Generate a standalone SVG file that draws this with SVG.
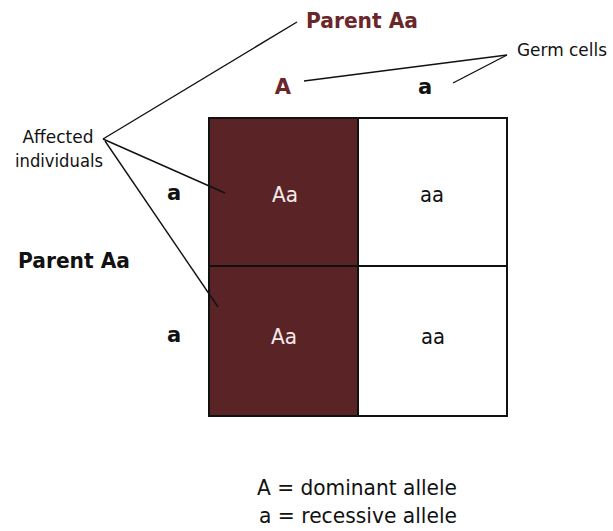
<svg xmlns="http://www.w3.org/2000/svg" width="613" height="531" viewBox="0 0 613 531">
<style>
text{font-family:"DejaVu Sans","Liberation Sans",sans-serif;}
.lbl{font-size:18px;fill:#111;}
.bold{font-size:21px;font-weight:bold;}
.red{fill:#6b2629;}
.blk{fill:#111;}
.cell{font-size:22px;text-anchor:middle;}
.leg{font-size:21px;fill:#111;text-anchor:middle;}
.ln{stroke:#111;stroke-width:1.4;fill:none;}
.dark{fill:#5a2427;}
.light{fill:#fff;}
.grid{stroke:#111;stroke-width:2;fill:none;}
</style>
<rect width="613" height="531" fill="#fff"/>
<g id="parent-top"><text class="bold red" x="306" y="28" textLength="112" lengthAdjust="spacingAndGlyphs">Parent Aa</text></g>
<g id="germ-cells"><text class="lbl" x="517" y="56" textLength="90" lengthAdjust="spacingAndGlyphs">Germ cells</text></g>
<g id="gamete-A"><text class="bold red" x="283" y="94" text-anchor="middle">A</text></g>
<g id="gamete-a-top"><text class="bold blk" x="425" y="94" text-anchor="middle">a</text></g>
<g id="affected"><text class="lbl" x="58" y="143" text-anchor="middle" textLength="71" lengthAdjust="spacingAndGlyphs">Affected</text><text class="lbl" x="59" y="167" text-anchor="middle" textLength="88" lengthAdjust="spacingAndGlyphs">individuals</text></g>
<g id="gamete-a-1"><text class="bold blk" x="174" y="200" text-anchor="middle">a</text></g>
<g id="parent-left"><text class="bold blk" x="18" y="268" textLength="112" lengthAdjust="spacingAndGlyphs">Parent Aa</text></g>
<g id="gamete-a-2"><text class="bold blk" x="174" y="342" text-anchor="middle">a</text></g>
<g id="cell-tl"><rect class="dark" x="209" y="118" width="149" height="148"/><text class="cell" x="285" y="202" fill="#f5e9e9" textLength="26" lengthAdjust="spacingAndGlyphs">Aa</text></g>
<g id="cell-tr"><rect class="light" x="358" y="118" width="149" height="148"/><text class="cell" x="432" y="202" fill="#111" textLength="24" lengthAdjust="spacingAndGlyphs">aa</text></g>
<g id="cell-bl"><rect class="dark" x="209" y="266" width="149" height="150"/><text class="cell" x="284" y="344" fill="#f5e9e9" textLength="26" lengthAdjust="spacingAndGlyphs">Aa</text></g>
<g id="cell-br"><rect class="light" x="358" y="266" width="149" height="150"/><text class="cell" x="433" y="344" fill="#111" textLength="24" lengthAdjust="spacingAndGlyphs">aa</text></g>
<g id="connectors">
<line class="ln" x1="103" y1="139" x2="297" y2="22"/>
<line class="ln" x1="103" y1="139" x2="225" y2="193"/>
<line class="ln" x1="105" y1="141" x2="218" y2="307"/>
<line class="ln" x1="507" y1="55" x2="304" y2="81"/>
<line class="ln" x1="507" y1="55" x2="453" y2="83"/>
</g>
<g id="grid">
<rect class="grid" x="209" y="118" width="298" height="298"/>
<line class="grid" x1="358" y1="118" x2="358" y2="416"/>
<line class="grid" x1="209" y1="266" x2="507" y2="266"/>
</g>
<g id="legend">
<text class="leg" x="357" y="495" textLength="200" lengthAdjust="spacingAndGlyphs">A = dominant allele</text>
<text class="leg" x="358" y="523" textLength="198" lengthAdjust="spacingAndGlyphs">a = recessive allele</text>
</g>
</svg>
